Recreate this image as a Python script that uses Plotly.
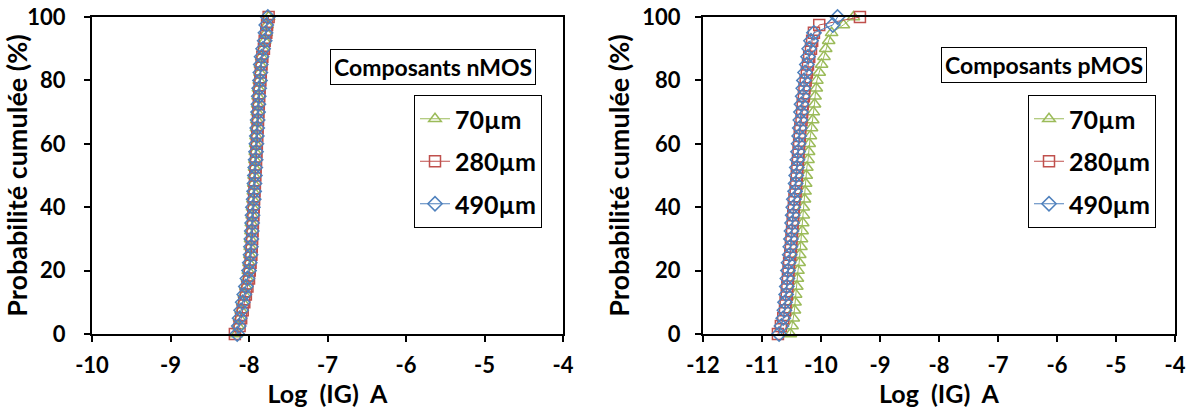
import plotly.graph_objects as go

# cumulative probability levels (%)
prob = [0, 2.5, 5, 7.5, 10, 12.5, 15, 17.5, 20, 22.5, 25, 27.5, 30, 32.5, 35, 37.5, 40,
        42.5, 45, 47.5, 50, 52.5, 55, 57.5, 60, 62.5, 65, 67.5, 70, 72.5, 75, 77.5, 80,
        82.5, 85, 87.5, 90, 92.5, 95, 97.5, 100]

# nMOS, log(IG)
n_70 = [-8.16, -8.14, -8.12, -8.10, -8.08, -8.06, -8.04, -8.02, -8.01, -8.00, -7.99,
        -7.985, -7.98, -7.975, -7.97, -7.96, -7.955, -7.95, -7.945, -7.94, -7.935, -7.93,
        -7.925, -7.92, -7.915, -7.91, -7.905, -7.90, -7.895, -7.89, -7.885, -7.88, -7.87,
        -7.86, -7.855, -7.84, -7.82, -7.80, -7.78, -7.77, -7.75]
n_280 = [-8.18, -8.12, -8.10, -8.08, -8.06, -8.04, -8.02, -8.00, -7.99, -7.98, -7.97,
         -7.965, -7.96, -7.955, -7.95, -7.945, -7.94, -7.935, -7.93, -7.925, -7.92, -7.915,
         -7.91, -7.905, -7.90, -7.895, -7.89, -7.885, -7.88, -7.875, -7.87, -7.865, -7.855,
         -7.85, -7.84, -7.83, -7.81, -7.80, -7.78, -7.77, -7.75]
n_490 = [-8.15, -8.13, -8.12, -8.10, -8.08, -8.06, -8.04, -8.02, -8.00, -7.99, -7.98,
         -7.975, -7.97, -7.965, -7.96, -7.955, -7.95, -7.94, -7.935, -7.93, -7.925, -7.92,
         -7.915, -7.91, -7.905, -7.90, -7.895, -7.89, -7.885, -7.88, -7.875, -7.87, -7.86,
         -7.855, -7.85, -7.84, -7.82, -7.80, -7.79, -7.78, -7.76]

# pMOS, log(IG)
p_70 = [-10.52, -10.49, -10.47, -10.45, -10.44, -10.43, -10.41, -10.40, -10.39, -10.37,
        -10.36, -10.34, -10.33, -10.32, -10.31, -10.30, -10.30, -10.28, -10.27, -10.26,
        -10.25, -10.24, -10.22, -10.21, -10.20, -10.18, -10.16, -10.14, -10.13, -10.11,
        -10.10, -10.08, -10.07, -10.03, -9.99, -9.95, -9.92, -9.87, -9.82, -9.62, -9.45]
p_280 = [-10.73, -10.68, -10.64, -10.61, -10.60, -10.58, -10.57, -10.56, -10.55, -10.54,
         -10.52, -10.51, -10.50, -10.49, -10.48, -10.47, -10.46, -10.45, -10.43, -10.42,
         -10.41, -10.40, -10.39, -10.38, -10.37, -10.36, -10.35, -10.33, -10.32, -10.31,
         -10.29, -10.28, -10.26, -10.24, -10.22, -10.20, -10.17, -10.15, -10.12, -10.03, -9.34]
p_490 = [-10.71, -10.67, -10.64, -10.62, -10.61, -10.59, -10.58, -10.57, -10.56, -10.55,
         -10.53, -10.52, -10.51, -10.50, -10.49, -10.48, -10.47, -10.46, -10.44, -10.43,
         -10.42, -10.41, -10.40, -10.39, -10.38, -10.37, -10.36, -10.35, -10.34, -10.33,
         -10.31, -10.30, -10.29, -10.27, -10.24, -10.22, -10.20, -10.17, -10.12, -9.80, -9.72]

labels = ["70µm", "280µm", "490µm"]
colors = ["#9BBB59", "#C0504D", "#4F81BD"]
symbols = ["triangle-up-open", "square-open", "diamond-open"]

# tick labels (plain hyphen, as in the original)
x1_ticks = [-10, -9, -8, -7, -6, -5, -4]
x1_text = ["-10", "-9", "-8", "-7", "-6", "-5", "-4"]
x2_ticks = [-12, -11, -10, -9, -8, -7, -6, -5, -4]
x2_text = ["-12", "-11", "-10", "-9", "-8", "-7", "-6", "-5", "-4"]

FONT = "Lato, Liberation Sans, sans-serif"

fig = go.Figure()

panels = [
    ([n_70, n_280, n_490], "x", "y", "legend"),
    ([p_70, p_280, p_490], "x2", "y2", "legend2"),
]
for series, xa, ya, lg in panels:
    for vals, name, col, sym in zip(series, labels, colors, symbols):
        fig.add_trace(go.Scatter(
            x=vals, y=prob, mode="lines+markers", name=name,
            xaxis=xa, yaxis=ya, legend=lg, legendgroup=lg + name,
            cliponaxis=False,
            line=dict(color=col, width=1),
            marker=dict(symbol=sym, size=11, color=col, line=dict(color=col, width=1.5)),
        ))

W, H = 1195, 419
top, bottom = 17, 334

def ax(**kw):
    d = dict(showline=True, linecolor="black", linewidth=2, mirror=True,
             ticks="outside", ticklen=6, tickwidth=2, tickcolor="black",
             showgrid=False, zeroline=False, automargin=False,
             tickfont=dict(family=FONT, size=22, color="black", weight="bold"))
    d.update(kw)
    return d

ytitle = dict(text="Probabilité cumulée (%)",
              font=dict(family=FONT, size=27, color="black", weight="bold"),
              standoff=5)
xtitle = dict(text="Log\u00a0\u00a0(IG)\u00a0\u00a0A",
              font=dict(family=FONT, size=25, color="black", weight="bold"),
              standoff=4)

ydom = [1 - bottom / H, 1 - top / H]
fig.update_layout(
    width=W, height=H,
    margin=dict(l=0, r=0, t=0, b=0),
    paper_bgcolor="white", plot_bgcolor="white",
    xaxis=ax(domain=[92 / W, 563 / W], range=[-10, -4], tickvals=x1_ticks, ticktext=x1_text,
             anchor="y", ticklabelstandoff=5, title=xtitle),
    yaxis=ax(domain=ydom, range=[0, 100], dtick=20, anchor="x",
             ticklabelstandoff=14, title=ytitle),
    xaxis2=ax(domain=[703 / W, 1175 / W], range=[-12, -4], tickvals=x2_ticks, ticktext=x2_text,
              anchor="y2", ticklabelstandoff=5, title=xtitle),
    yaxis2=ax(domain=ydom, range=[0, 100], dtick=20, anchor="x2",
              ticklabelstandoff=10, title=ytitle),
    showlegend=True,
)

legend_style = dict(
    xanchor="right", yanchor="top", y=1 - 95 / H,
    bgcolor="white", bordercolor="black", borderwidth=1,
    font=dict(family=FONT, size=25, color="black", weight="bold"),
    itemwidth=30, tracegroupgap=7,
)
fig.update_layout(
    legend=dict(x=542 / W, **legend_style),
    legend2=dict(x=1156 / W, **legend_style),
)

box_font = dict(family=FONT, size=23, color="black", weight="bold")
for text, cx, cy in [("Composants nMOS", 433, 67), ("Composants pMOS", 1044, 65)]:
    fig.add_annotation(
        text=text, x=cx / W, y=1 - cy / H, xref="paper", yref="paper",
        xanchor="center", yanchor="middle",
        showarrow=False, font=box_font, bgcolor="white",
        bordercolor="black", borderwidth=1, borderpad=3,
    )

fig.write_html("out.html", config={"displayModeBar": False},
               post_script="document.body.style.margin = '0';")
